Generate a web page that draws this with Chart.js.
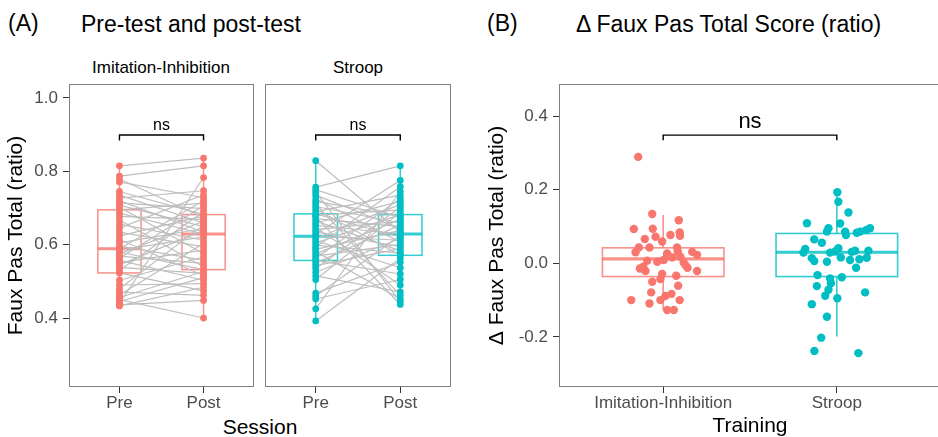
<!DOCTYPE html>
<html>
<head>
<meta charset="utf-8">
<script src="https://cdn.jsdelivr.net/npm/chart.js"></script>
<style>
  html, body { margin: 0; padding: 0; overflow: hidden; background: #fff; width: 938px; height: 437px; }
  body { position: relative; font-family: "Liberation Sans", Arial, sans-serif; }
  canvas { position: absolute; top: 84px; }
  .t { position: absolute; line-height: 1; white-space: nowrap; color: #000; }
  .c { transform: translateX(-50%); }
</style>
</head>
<body>
<div class="t" style="left:8px;top:12px;font-size:23px">(A)</div>
<div class="t" style="left:81px;top:13px;font-size:23px">Pre-test and post-test</div>
<div class="t" style="left:487px;top:12px;font-size:23px">(B)</div>
<div class="t" style="left:576px;top:13px;font-size:23px">Δ Faux Pas Total Score (ratio)</div>
<div class="t c" style="left:161px;top:59px;font-size:17px">Imitation-Inhibition</div>
<div class="t c" style="left:358px;top:59px;font-size:17px">Stroop</div>
<div class="t c" style="left:260px;top:416px;font-size:21px">Session</div>

<canvas id="panelA1" width="254" height="353" style="left:0px"></canvas>
<canvas id="panelA2" width="186" height="353" style="left:265px"></canvas>
<canvas id="panelB" width="471" height="353" style="left:470px"></canvas>

<script>
// --- data ---
const sessions = ['Pre', 'Post'];
const trainings = ['Imitation-Inhibition', 'Stroop'];

// paired scores, one entry per participant
const iiPre  = [0.433,0.436,0.440,0.445,0.450,0.456,0.463,0.471,0.480,0.490,0.503,0.523,0.530,0.538,0.545,0.551,0.557,0.563,0.569,0.575,0.580,0.585,0.589,0.596,0.605,0.614,0.624,0.634,0.645,0.656,0.667,0.677,0.686,0.695,0.702,0.708,0.714,0.720,0.727,0.735,0.745,0.771,0.779,0.787,0.815];
const iiPost = [0.484,0.448,0.783,0.510,0.400,0.527,0.603,0.462,0.654,0.494,0.567,0.474,0.690,0.522,0.639,0.585,0.503,0.706,0.549,0.664,0.532,0.621,0.720,0.558,0.644,0.516,0.678,0.594,0.736,0.612,0.540,0.669,0.629,0.713,0.576,0.649,0.698,0.634,0.747,0.659,0.682,0.728,0.674,0.815,0.836];
const stPre  = [0.392,0.425,0.452,0.460,0.468,0.505,0.515,0.525,0.535,0.543,0.550,0.557,0.563,0.569,0.575,0.581,0.587,0.593,0.599,0.605,0.611,0.617,0.623,0.629,0.635,0.641,0.647,0.653,0.659,0.665,0.671,0.676,0.680,0.684,0.690,0.697,0.704,0.711,0.718,0.725,0.735,0.743,0.750,0.757,0.829];
const stPost = [0.563,0.745,0.505,0.625,0.552,0.688,0.471,0.617,0.702,0.589,0.654,0.520,0.726,0.601,0.669,0.452,0.639,0.758,0.577,0.682,0.537,0.710,0.612,0.775,0.595,0.664,0.490,0.629,0.718,0.583,0.649,0.437,0.695,0.621,0.735,0.571,0.659,0.462,0.678,0.607,0.644,0.445,0.674,0.815,0.634];

// box stats [lower whisker, q1, median, q3, upper whisker]
const iiPreBox  = [0.433, 0.523, 0.589, 0.695, 0.815];
const iiPostBox = [0.400, 0.532, 0.629, 0.682, 0.836];
const stPreBox  = [0.392, 0.557, 0.623, 0.684, 0.829];
const stPostBox = [0.437, 0.571, 0.629, 0.682, 0.815];

// change scores (panel B) and their horizontal jitter (category units)
const iiDelta  = [0.289,0.134,0.117,0.093,0.094,0.084,0.075,0.077,0.066,0.072,0.059,0.043,0.043,0.030,0.043,0.032,0.031,0.023,0.022,0.018,0.016,0.027,0.007,0.004,0.009,-0.005,0.002,-0.009,-0.014,-0.012,-0.021,-0.021,-0.029,-0.034,-0.050,-0.043,-0.061,-0.079,-0.083,-0.089,-0.100,-0.100,-0.100,-0.109,-0.127,-0.127];
const iiJitter = [-0.144,-0.063,0.090,-0.169,-0.060,0.095,0.097,0.042,-0.106,-0.044,-0.006,-0.140,-0.079,-0.159,0.080,0.084,0.167,0.195,0.023,0.099,0.052,0.023,-0.092,-0.034,0.003,0.128,0.118,-0.115,-0.134,0.140,-0.102,0.195,-0.006,0.075,-0.063,-0.016,0.086,-0.069,0.048,0.013,-0.184,-0.016,0.095,-0.079,0.023,0.061];
const stDelta  = [0.193,0.167,0.138,0.109,0.108,0.095,0.086,0.086,0.077,0.083,0.086,0.090,0.095,0.065,0.056,0.039,0.029,0.041,0.032,0.029,0.031,0.034,0.034,0.014,0.006,0.004,0.016,0.009,0.011,0.015,-0.012,-0.032,-0.041,-0.038,-0.062,-0.054,-0.072,-0.079,-0.088,-0.095,-0.111,-0.145,-0.202,-0.238,-0.244];
const stJitter = [0.003,0.009,0.067,-0.172,0.019,-0.048,-0.057,0.048,0.053,0.115,0.134,0.168,0.191,-0.130,-0.086,-0.182,-0.192,0.009,-0.010,-0.039,0.086,0.105,0.182,-0.144,-0.130,-0.057,0.023,0.076,0.130,0.172,0.111,-0.111,-0.039,0.029,-0.115,-0.034,-0.048,0.163,-0.067,0.003,-0.144,-0.057,-0.090,-0.129,0.124];
const iiDeltaBox = [-0.127, -0.036, 0.012, 0.042, 0.131];
const stDeltaBox = [-0.199, -0.036, 0.030, 0.081, 0.193];

const yTicksA = [0.4, 0.6, 0.8, 1.0];
const yTicksB = [-0.2, 0.0, 0.2, 0.4];
const sigLabel = 'ns';

// --- styling ---
const RED = '#F8766D', TEAL = '#00BFC4';
const RED_BOX = 'rgba(248,118,109,0.8)', TEAL_BOX = 'rgba(0,191,196,0.8)';
const FONT = '"Liberation Sans", Arial, sans-serif';
Chart.defaults.font.family = FONT;

function xAxis(labels, showTitle) {
  return {
    type: 'linear', min: 0.4, max: 2.6,
    afterBuildTicks: s => { s.ticks = [{ value: 1 }, { value: 2 }]; },
    afterFit: s => { s.height = 50; s.paddingLeft = 0; s.paddingRight = 0; },
    ticks: { callback: v => labels[v - 1], color: '#4D4D4D', font: { size: 17 }, padding: 0, maxRotation: 0, autoSkip: false },
    grid: { drawOnChartArea: false, drawTicks: true, tickLength: 6, color: '#333' },
    border: { display: false },
    title: showTitle ? { display: true, text: showTitle, color: '#000', font: { size: 21, lineHeight: 1 }, padding: 0 } : { display: false }
  };
}

function yAxis(min, max, tickVals, width, title, titlePad) {
  return {
    type: 'linear', min: min, max: max,
    display: width > 0,
    afterBuildTicks: s => { s.ticks = tickVals.map(v => ({ value: v })); },
    afterFit: s => { s.width = width; s.paddingTop = 0; s.paddingBottom = 0; },
    ticks: { callback: v => v.toFixed(1), color: '#4D4D4D', font: { size: 17 }, padding: 5 },
    grid: { drawOnChartArea: false, drawTicks: true, tickLength: 6, color: '#333' },
    border: { display: false },
    title: title ? { display: true, text: title, color: '#000', font: { size: 21 }, padding: { top: titlePad } } : { display: false }
  };
}

// boxes, brackets and panel border drawn through the chart's scales
function panelPlugin(boxes, bracket) {
  return {
    id: 'panel',
    beforeDatasetsDraw(chart) {
      const { ctx, scales: { x, y } } = chart;
      ctx.save();
      boxes.forEach(b => {
        const cx = x.getPixelForValue(b.at);
        const hw = x.getPixelForValue(b.at + b.half) - cx;
        const [lo, q1, md, q3, hi] = b.stats.map(v => y.getPixelForValue(v));
        ctx.strokeStyle = b.color;
        ctx.lineWidth = b.lw;
        ctx.beginPath();
        ctx.moveTo(cx, hi); ctx.lineTo(cx, q3);
        ctx.moveTo(cx, q1); ctx.lineTo(cx, lo);
        ctx.stroke();
        ctx.strokeRect(cx - hw, q3, hw * 2, q1 - q3);
        ctx.lineWidth = b.lw * 2;
        ctx.beginPath();
        ctx.moveTo(cx - hw, md); ctx.lineTo(cx + hw, md);
        ctx.stroke();
      });
      ctx.restore();
    },
    afterDatasetsDraw(chart) {
      const { ctx, chartArea: a, scales: { x, y } } = chart;
      ctx.save();
      if (bracket) {
        const x1 = x.getPixelForValue(1), x2 = x.getPixelForValue(2);
        const yb = y.getPixelForValue(bracket.bar), yt = y.getPixelForValue(bracket.tip);
        ctx.strokeStyle = '#000';
        ctx.lineWidth = 1.4;
        ctx.beginPath();
        ctx.moveTo(x1, yt); ctx.lineTo(x1, yb); ctx.lineTo(x2, yb); ctx.lineTo(x2, yt);
        ctx.stroke();
        ctx.fillStyle = '#000';
        ctx.font = bracket.size + 'px ' + FONT;
        ctx.textAlign = 'center';
        ctx.textBaseline = 'alphabetic';
        ctx.fillText(sigLabel, (x1 + x2) / 2, y.getPixelForValue(bracket.text));
      }
      ctx.strokeStyle = '#808080';
      ctx.lineWidth = 1;
      ctx.strokeRect(a.left + 0.5, a.top + 0.5, a.right - a.left - 1, a.bottom - a.top - 1);
      ctx.restore();
    }
  };
}

function pairedDatasets(pre, post, color) {
  const sets = [{
    data: pre.map(v => ({ x: 1, y: v })).concat(post.map(v => ({ x: 2, y: v }))),
    pointRadius: 3.4, pointBorderWidth: 0, pointBackgroundColor: color, order: 0
  }];
  pre.forEach((v, i) => {
    sets.push({
      data: [{ x: 1, y: v }, { x: 2, y: post[i] }],
      showLine: true, borderColor: '#BEBEBE', borderWidth: 1.2, pointRadius: 0, order: 1
    });
  });
  return sets;
}

function baseOptions(xs, ys) {
  return {
    responsive: false, animation: false, devicePixelRatio: 1, events: [],
    layout: { padding: 0, autoPadding: false },
    plugins: { legend: { display: false }, tooltip: { enabled: false } },
    scales: { x: xs, y: ys }
  };
}

const bracketA = { bar: 0.899, tip: 0.884, text: 0.913, size: 16 };
const bracketB = { bar: 0.348, tip: 0.334, text: 0.367, size: 22 };

new Chart(document.getElementById('panelA1'), {
  type: 'scatter',
  data: { datasets: pairedDatasets(iiPre, iiPost, RED) },
  options: baseOptions(xAxis(sessions), yAxis(0.212, 1.038, yTicksA, 69, 'Faux Pas Total (ratio)', 4)),
  plugins: [panelPlugin([
    { at: 1, half: 0.257, stats: iiPreBox, color: RED_BOX, lw: 1.5 },
    { at: 2, half: 0.257, stats: iiPostBox, color: RED_BOX, lw: 1.5 }
  ], bracketA)]
});

new Chart(document.getElementById('panelA2'), {
  type: 'scatter',
  data: { datasets: pairedDatasets(stPre, stPost, TEAL) },
  options: baseOptions(xAxis(sessions), yAxis(0.212, 1.038, yTicksA, 0, null, 0)),
  plugins: [panelPlugin([
    { at: 1, half: 0.257, stats: stPreBox, color: TEAL_BOX, lw: 1.5 },
    { at: 2, half: 0.257, stats: stPostBox, color: TEAL_BOX, lw: 1.5 }
  ], bracketA)]
});

new Chart(document.getElementById('panelB'), {
  type: 'scatter',
  data: {
    datasets: [
      { data: iiDelta.map((v, i) => ({ x: 1 + iiJitter[i], y: v })), pointRadius: 4.2, pointBorderWidth: 0, pointBackgroundColor: RED },
      { data: stDelta.map((v, i) => ({ x: 2 + stJitter[i], y: v })), pointRadius: 4.2, pointBorderWidth: 0, pointBackgroundColor: TEAL }
    ]
  },
  options: baseOptions(xAxis(trainings, 'Training'), yAxis(-0.336, 0.487, yTicksB, 89, 'Δ Faux Pas Total (ratio)', 15)),
  plugins: [panelPlugin([
    { at: 1, half: 0.35, stats: iiDeltaBox, color: RED_BOX, lw: 1.6 },
    { at: 2, half: 0.35, stats: stDeltaBox, color: TEAL_BOX, lw: 1.6 }
  ], bracketB)]
});
</script>
</body>
</html>
